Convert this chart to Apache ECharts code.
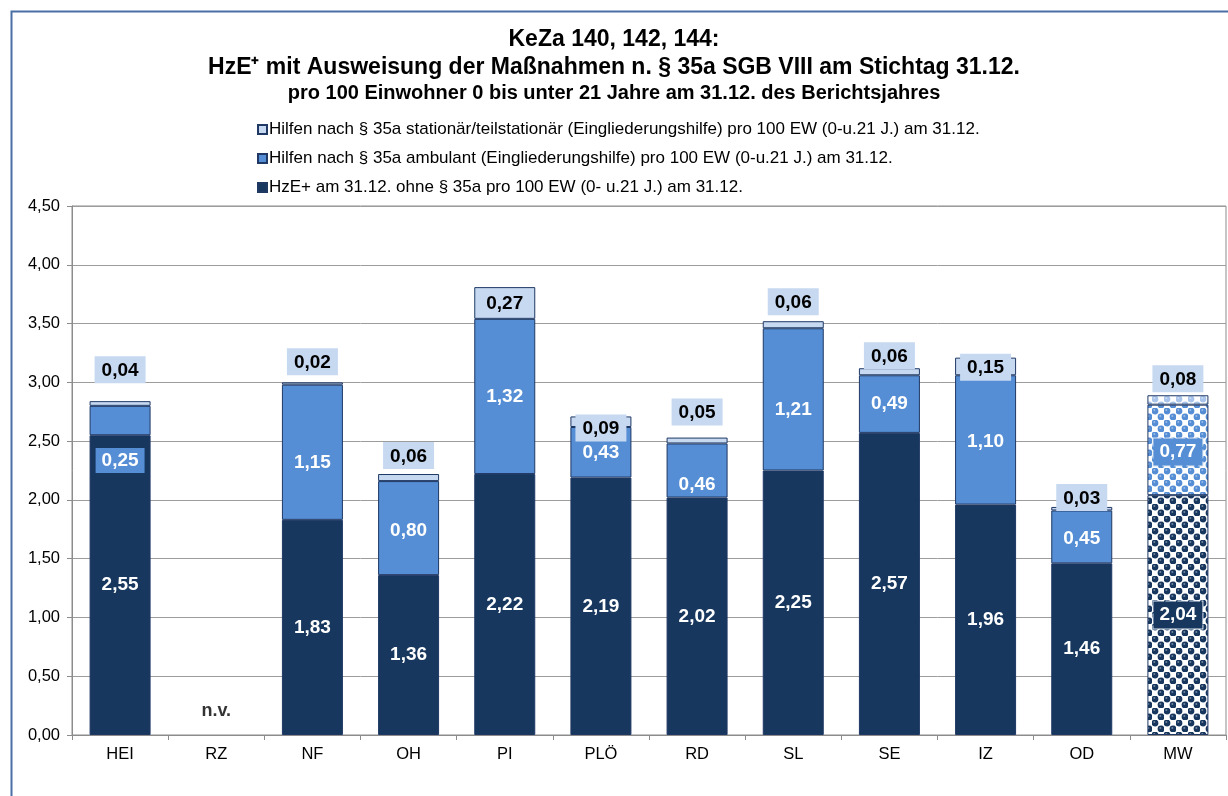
<!DOCTYPE html>
<html>
<head>
<meta charset="utf-8">
<script src="https://cdn.jsdelivr.net/npm/echarts@6/dist/echarts.min.js"></script>
<style>
html,body{margin:0;padding:0;background:#fff;}
#chart{width:1228px;height:796px;}
</style>
</head>
<body>
<div id="chart"></div>
<script>
const categories = ['HEI','RZ','NF','OH','PI','PLÖ','RD','SL','SE','IZ','OD','MW'];
const ohne35a    = [2.55, null, 1.83, 1.36, 2.22, 2.19, 2.02, 2.25, 2.57, 1.96, 1.46, 2.04];
const ambulant   = [0.25, null, 1.15, 0.80, 1.32, 0.43, 0.46, 1.21, 0.49, 1.10, 0.45, 0.77];
const stationaer = [0.04, null, 0.02, 0.06, 0.27, 0.09, 0.05, 0.06, 0.06, 0.15, 0.03, 0.08];
const notAvailable = ['RZ'];
const averageCategory = 'MW';
const seriesNames = [
  'HzE+ am 31.12. ohne § 35a pro 100 EW (0- u.21 J.) am 31.12.',
  'Hilfen nach § 35a ambulant (Eingliederungshilfe) pro 100 EW (0-u.21 J.) am 31.12.',
  'Hilfen nach § 35a stationär/teilstationär (Eingliederungshilfe) pro 100 EW (0-u.21 J.) am 31.12.'
];

// label fine-tuning (style only)
const midLabelDy = {HEI: 40, NF: 10, RD: 14, SL: 10, OH: 3, IZ: 2, OD: 2, MW: 2};
const topLabelDy = {HEI: -18, NF: -7, OH: -5, PI: 29, 'PLÖ': 25, RD: -12, SL: -6, SE: 1, IZ: 23, OD: 4, MW: -3};

const DARK = '#17375E', MID = '#558ED5', LIGHT = '#C6D9F1', EDGE = '#1F3864';
const FONT = '"Liberation Sans", Arial, sans-serif';

function makePattern(color, bg) {
  const s = 12, c = document.createElement('canvas');
  c.width = s; c.height = s;
  const ctx = c.getContext('2d');
  ctx.fillStyle = bg; ctx.fillRect(0, 0, s, s);
  ctx.fillStyle = color;
  [[3,3],[9,9]].forEach(p => { ctx.beginPath(); ctx.arc(p[0], p[1], 3.4, 0, Math.PI*2); ctx.fill(); });
  ctx.fillStyle = 'rgba(255,255,255,0.4)';
  [[2.3,2.0],[8.3,8.0]].forEach(p => { ctx.beginPath(); ctx.arc(p[0], p[1], 1.0, 0, Math.PI*2); ctx.fill(); });
  return {image: c, repeat: 'repeat'};
}

const fmt = v => v.toFixed(2).replace('.', ',');

function buildData(values, patternColor, kind) {
  return values.map((v, i) => {
    const cat = categories[i];
    if (v === null) return null;
    const item = {value: v, itemStyle: {}, label: {}};
    if (cat === averageCategory) item.itemStyle.color = makePattern(patternColor, '#ffffff');
    if (kind === 'mid') {
      item.label.offset = [0, midLabelDy[cat] || 0];
      if (cat === 'HEI') { item.label.backgroundColor = MID; item.label.padding = [4, 6, 2, 6]; }
      if (cat === averageCategory) { item.label.backgroundColor = MID; item.label.borderColor = '#DCE6F2'; item.label.borderType = 'dashed'; item.label.borderWidth = 1; item.label.padding = [5, 6, 3, 6]; }
    } else if (kind === 'dark') {
      if (cat === averageCategory) { item.label.backgroundColor = DARK; item.label.borderColor = '#DCE6F2'; item.label.borderType = 'dashed'; item.label.borderWidth = 1; item.label.padding = [5, 6, 3, 6]; }
    } else if (kind === 'top') {
      item.label.offset = [0, topLabelDy[cat] || 0];
    }
    return item;
  });
}

const chart = echarts.init(document.getElementById('chart'), null, {renderer: 'canvas'});

const valueLabel = {
  show: true, position: 'inside', color: '#ffffff', fontFamily: FONT, fontWeight: 'bold', fontSize: 19,
  formatter: p => fmt(p.value)
};

chart.setOption({
  animation: false,
  backgroundColor: '#ffffff',
  textStyle: {fontFamily: FONT},
  title: {
    left: 'center', top: 21,
    text: 'KeZa 140, 142, 144:\nHzE\u207A mit Ausweisung der Maßnahmen n. § 35a SGB VIII am Stichtag 31.12.',
    textStyle: {fontFamily: FONT, fontWeight: 'bold', fontSize: 23, lineHeight: 28, color: '#000'},
    subtext: 'pro 100 Einwohner 0 bis unter 21 Jahre am 31.12. des Berichtsjahres',
    subtextStyle: {fontFamily: FONT, fontWeight: 'bold', fontSize: 20, color: '#000', lineHeight: 22},
    itemGap: 0
  },
  legend: {
    orient: 'vertical', left: 252, top: 116,
    itemWidth: 9, itemHeight: 9, itemGap: 12,
    icon: 'rect',
    textStyle: {fontFamily: FONT, fontSize: 17, color: '#000', padding: [0, 0, 0, -3]},
    data: [seriesNames[2], seriesNames[1], seriesNames[0]]
  },
  graphic: [{
    type: 'rect', left: 9, top: 9, silent: true,
    shape: {width: 1300, height: 900},
    style: {fill: 'none', stroke: '#4A6FA5', lineWidth: 2}
  }],
  grid: {
    left: 72, right: 2, top: 206, bottom: 61,
    show: true, borderColor: '#8C8C8C', borderWidth: 1, backgroundColor: 'transparent'
  },
  xAxis: {
    type: 'category', data: categories,
    axisLine: {lineStyle: {color: '#8C8C8C', width: 1}},
    axisTick: {show: true, length: 5, lineStyle: {color: '#8C8C8C'}},
    axisLabel: {color: '#000', fontFamily: FONT, fontSize: 16.5, margin: 11}
  },
  yAxis: {
    type: 'value', min: 0, max: 4.5, interval: 0.5,
    axisLine: {show: true, lineStyle: {color: '#8C8C8C'}},
    axisTick: {show: true, inside: false, length: 5, lineStyle: {color: '#8C8C8C'}},
    splitLine: {lineStyle: {color: '#9C9C9C', width: 1}},
    axisLabel: {color: '#000', fontFamily: FONT, fontSize: 16.5, margin: 12, formatter: v => fmt(v)}
  },
  series: [
    {
      name: seriesNames[0], type: 'bar', stack: 'total', barWidth: 61,
      itemStyle: {color: DARK, borderColor: EDGE, borderWidth: 1},
      label: valueLabel,
      data: buildData(ohne35a, DARK, 'dark')
    },
    {
      name: seriesNames[1], type: 'bar', stack: 'total', barWidth: 61,
      itemStyle: {color: MID, borderColor: EDGE, borderWidth: 1},
      label: valueLabel,
      data: buildData(ambulant, MID, 'mid')
    },
    {
      name: seriesNames[2], type: 'bar', stack: 'total', barWidth: 61,
      itemStyle: {color: LIGHT, borderColor: EDGE, borderWidth: 1},
      label: {
        show: true, position: 'top', distance: 0, color: '#000', fontFamily: FONT, fontWeight: 'bold', fontSize: 19,
        backgroundColor: LIGHT, padding: [5, 7, 3, 7],
        formatter: p => fmt(p.value)
      },
      data: buildData(stationaer, '#A9C4EB', 'top')
    },
    {
      name: 'n.v.', type: 'scatter', symbolSize: 0, silent: true,
      data: categories.map(c => notAvailable.includes(c) ? 0 : null),
      label: {show: true, position: 'top', distance: 15, color: '#000', fontFamily: FONT, fontWeight: 'bold', fontSize: 18, formatter: 'n.v.'}
    }
  ]
});
</script>
</body>
</html>
